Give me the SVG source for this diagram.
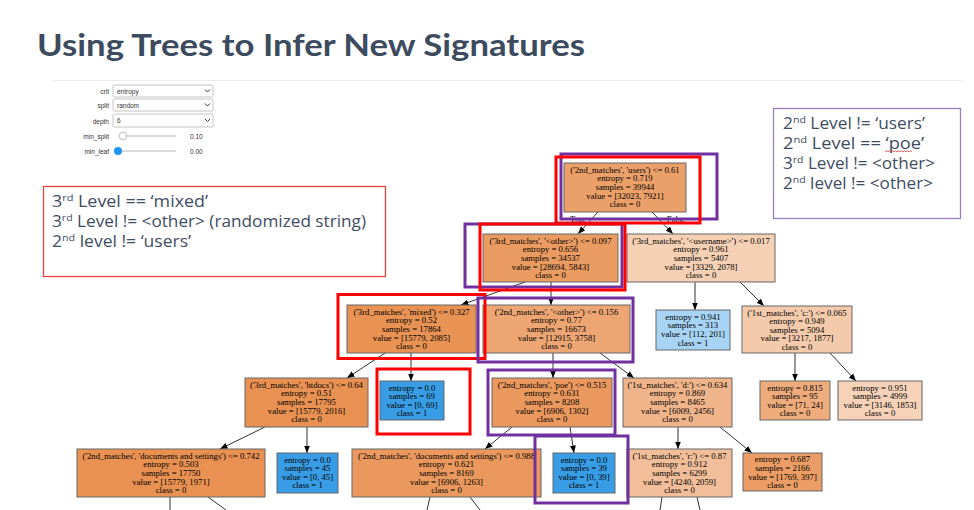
<svg xmlns="http://www.w3.org/2000/svg" width="974" height="510" viewBox="0 0 974 510">
<style>
.nt{font-family:"Liberation Serif","Times New Roman",serif;font-size:8.7px;fill:#000;text-anchor:middle}
.nb{stroke:#666;stroke-width:1}
.e{stroke:#1a1a1a;stroke-width:0.9;fill:none}
.ea{marker-end:url(#ah)}
.hr{fill:none;stroke:#ff0000;stroke-width:3}
.hp{fill:none;stroke:#7030a0;stroke-width:3}
.wl{font-family:"Liberation Sans",Arial,sans-serif;font-size:6.5px;fill:#333}
.sel{fill:#fff;stroke:#b5b5b5;stroke-width:0.8}
.note{font-family:"Open Sans","Noto Sans","Liberation Sans",sans-serif;font-size:15.5px;fill:#3f4d62}
.sup{font-size:9.5px}
</style>
<defs>
<marker id="ah" markerUnits="userSpaceOnUse" markerWidth="8" markerHeight="7" refX="7.5" refY="3.5" orient="auto">
<path d="M0,0.5 L7.5,3.5 L0,6.5 z" fill="#000"/>
</marker>
</defs>
<rect x="0" y="0" width="974" height="510" fill="#fff"/>
<text x="37" y="56" font-family="Lato,'Open Sans','Liberation Sans',sans-serif" font-weight="bold" font-size="31" fill="#3d4b5f" textLength="548" lengthAdjust="spacingAndGlyphs">Using Trees to Infer New Signatures</text>
<line x1="52" y1="80.5" x2="962" y2="80.5" stroke="#ececec" stroke-width="1"/>

<g id="widgets">
<text class="wl" x="109" y="93.5" text-anchor="end">crit</text>
<rect class="sel" x="113" y="85" width="100" height="12" rx="1.5"/>
<text class="wl" x="117" y="93.5">entropy</text>
<polyline points="205,89.5 207.5,92 210,89.5" fill="none" stroke="#333" stroke-width="1"/>
<text class="wl" x="109" y="107.5" text-anchor="end">split</text>
<rect class="sel" x="113" y="99" width="100" height="12" rx="1.5"/>
<text class="wl" x="117" y="107.5">random</text>
<polyline points="205,103.5 207.5,106 210,103.5" fill="none" stroke="#333" stroke-width="1"/>
<text class="wl" x="109" y="123.5" text-anchor="end">depth</text>
<rect class="sel" x="113" y="114" width="100" height="13" rx="1.5"/>
<text class="wl" x="117" y="123">6</text>
<polyline points="205,119 207.5,121.5 210,119" fill="none" stroke="#333" stroke-width="1"/>
<text class="wl" x="109" y="138.5" text-anchor="end">min_split</text>
<line x1="119" y1="136" x2="176" y2="136" stroke="#d0d0d0" stroke-width="1.5"/>
<circle cx="123" cy="136" r="3.8" fill="#fff" stroke="#aaa" stroke-width="0.8"/>
<text class="wl" x="190" y="138.5">0.10</text>
<text class="wl" x="109" y="153.5" text-anchor="end">min_leaf</text>
<line x1="118" y1="151" x2="176" y2="151" stroke="#d0d0d0" stroke-width="1.5"/>
<circle cx="118" cy="151" r="4" fill="#2196f3"/>
<text class="wl" x="190" y="153.5">0.00</text>
</g>

<g id="connectors">
<line class="e ea" x1="598" y1="212" x2="578" y2="234"/>
<line class="e ea" x1="652" y1="212" x2="673" y2="234"/>
<line class="e ea" x1="525" y1="282" x2="461" y2="305"/>
<line class="e ea" x1="551" y1="282" x2="551" y2="305"/>
<line class="e ea" x1="695" y1="282" x2="695" y2="310"/>
<line class="e ea" x1="740" y1="282" x2="764" y2="306"/>
<line class="e ea" x1="385" y1="353" x2="347" y2="378"/>
<line class="e ea" x1="411" y1="353" x2="411" y2="381"/>
<line class="e ea" x1="553" y1="353" x2="553" y2="378"/>
<line class="e ea" x1="600" y1="353" x2="634" y2="378"/>
<line class="e ea" x1="795" y1="353" x2="795" y2="381"/>
<line class="e ea" x1="830" y1="353" x2="856" y2="381"/>
<line class="e ea" x1="265" y1="427" x2="220" y2="449"/>
<line class="e ea" x1="307" y1="427" x2="307" y2="453"/>
<line class="e ea" x1="512" y1="427" x2="485" y2="449"/>
<line class="e ea" x1="570" y1="427" x2="574" y2="453"/>
<line class="e ea" x1="678" y1="427" x2="678" y2="449"/>
<line class="e ea" x1="720" y1="427" x2="752" y2="453"/>
<line class="e" x1="170" y1="497" x2="170" y2="510"/>
<line class="e" x1="208" y1="497" x2="226" y2="510"/>
<line class="e" x1="430" y1="497" x2="427" y2="510"/>
<line class="e" x1="470" y1="497" x2="480" y2="510"/>
<line class="e" x1="662" y1="497" x2="660" y2="510"/>
<line class="e" x1="697" y1="497" x2="700" y2="510"/>
<text class="nt" x="578" y="222">True</text>
<text class="nt" x="676" y="222">False</text>
</g>

<g id="n0"><rect class="nb" x="564" y="163" width="122" height="49" fill="#eba06a"/>
<text class="nt" y="172.8"><tspan x="625">('2nd_matches', 'users') &lt;= 0.61</tspan><tspan x="625" dy="8.6">entropy = 0.719</tspan><tspan x="625" dy="8.6">samples = 39944</tspan><tspan x="625" dy="8.6">value = [32023, 7921]</tspan><tspan x="625" dy="8.6">class = 0</tspan></text></g>

<g id="n1"><rect class="nb" x="483" y="234" width="135" height="48" fill="#ea9b61"/>
<text class="nt" y="243.8"><tspan x="550.5">('3rd_matches', '&lt;other&gt;') &lt;= 0.097</tspan><tspan x="550.5" dy="8.6">entropy = 0.656</tspan><tspan x="550.5" dy="8.6">samples = 34537</tspan><tspan x="550.5" dy="8.6">value = [28694, 5843]</tspan><tspan x="550.5" dy="8.6">class = 0</tspan></text></g>

<g id="n2"><rect class="nb" x="627" y="234" width="148" height="48" fill="#f5d0b4"/>
<text class="nt" y="243.8"><tspan x="701">('3rd_matches', '&lt;username&gt;') &lt;= 0.017</tspan><tspan x="701" dy="8.6">entropy = 0.961</tspan><tspan x="701" dy="8.6">samples = 5407</tspan><tspan x="701" dy="8.6">value = [3329, 2078]</tspan><tspan x="701" dy="8.6">class = 0</tspan></text></g>

<g id="n3"><rect class="nb" x="347" y="305" width="129" height="48" fill="#e89253"/>
<text class="nt" y="314.8"><tspan x="411.5">('3rd_matches', 'mixed') &lt;= 0.327</tspan><tspan x="411.5" dy="8.6">entropy = 0.52</tspan><tspan x="411.5" dy="8.6">samples = 17864</tspan><tspan x="411.5" dy="8.6">value = [15779, 2085]</tspan><tspan x="411.5" dy="8.6">class = 0</tspan></text></g>

<g id="n4"><rect class="nb" x="483" y="305" width="147" height="48" fill="#eda673"/>
<text class="nt" y="314.8"><tspan x="556.5">('2nd_matches', '&lt;other&gt;') &lt;= 0.156</tspan><tspan x="556.5" dy="8.6">entropy = 0.77</tspan><tspan x="556.5" dy="8.6">samples = 16673</tspan><tspan x="556.5" dy="8.6">value = [12915, 3758]</tspan><tspan x="556.5" dy="8.6">class = 0</tspan></text></g>

<g id="n5"><rect class="nb" x="656" y="310" width="74" height="40" fill="#a7d4f4"/>
<text class="nt" y="319.8"><tspan x="693">entropy = 0.941</tspan><tspan x="693" dy="8.6">samples = 313</tspan><tspan x="693" dy="8.6">value = [112, 201]</tspan><tspan x="693" dy="8.6">class = 1</tspan></text></g>

<g id="n6"><rect class="nb" x="742" y="306" width="110" height="47" fill="#f4caac"/>
<text class="nt" y="315.5"><tspan x="797">('1st_matches', 'c:') &lt;= 0.065</tspan><tspan x="797" dy="8.6">entropy = 0.949</tspan><tspan x="797" dy="8.6">samples = 5094</tspan><tspan x="797" dy="8.6">value = [3217, 1877]</tspan><tspan x="797" dy="8.6">class = 0</tspan></text></g>

<g id="n7"><rect class="nb" x="245" y="378" width="123" height="49" fill="#e89152"/>
<text class="nt" y="387.8"><tspan x="306.5">('3rd_matches', 'htdocs') &lt;= 0.64</tspan><tspan x="306.5" dy="8.6">entropy = 0.51</tspan><tspan x="306.5" dy="8.6">samples = 17795</tspan><tspan x="306.5" dy="8.6">value = [15779, 2016]</tspan><tspan x="306.5" dy="8.6">class = 0</tspan></text></g>

<g id="n8"><rect class="nb" x="380" y="381" width="64" height="39" fill="#399de5"/>
<text class="nt" y="390.6"><tspan x="412">entropy = 0.0</tspan><tspan x="412" dy="8.6">samples = 69</tspan><tspan x="412" dy="8.6">value = [0, 69]</tspan><tspan x="412" dy="8.6">class = 1</tspan></text></g>

<g id="n9"><rect class="nb" x="492" y="378" width="120" height="49" fill="#ea985e"/>
<text class="nt" y="387.8"><tspan x="552">('2nd_matches', 'poe') &lt;= 0.515</tspan><tspan x="552" dy="8.6">entropy = 0.631</tspan><tspan x="552" dy="8.6">samples = 8208</tspan><tspan x="552" dy="8.6">value = [6906, 1302]</tspan><tspan x="552" dy="8.6">class = 0</tspan></text></g>

<g id="n10"><rect class="nb" x="623" y="378" width="109" height="49" fill="#f0b48a"/>
<text class="nt" y="387.8"><tspan x="677.5">('1st_matches', 'd:') &lt;= 0.634</tspan><tspan x="677.5" dy="8.6">entropy = 0.869</tspan><tspan x="677.5" dy="8.6">samples = 8465</tspan><tspan x="677.5" dy="8.6">value = [6009, 2456]</tspan><tspan x="677.5" dy="8.6">class = 0</tspan></text></g>

<g id="n11"><rect class="nb" x="760" y="381" width="70" height="39" fill="#eeac7c"/>
<text class="nt" y="390.6"><tspan x="795">entropy = 0.815</tspan><tspan x="795" dy="8.6">samples = 95</tspan><tspan x="795" dy="8.6">value = [71, 24]</tspan><tspan x="795" dy="8.6">class = 0</tspan></text></g>

<g id="n12"><rect class="nb" x="838" y="381" width="84" height="39" fill="#f6d2b9"/>
<text class="nt" y="390.6"><tspan x="880">entropy = 0.951</tspan><tspan x="880" dy="8.6">samples = 4999</tspan><tspan x="880" dy="8.6">value = [3146, 1853]</tspan><tspan x="880" dy="8.6">class = 0</tspan></text></g>

<g id="n13"><rect class="nb" x="77" y="449" width="188" height="48" fill="#e89152"/>
<text class="nt" y="458.8"><tspan x="171">('2nd_matches', 'documents and settings') &lt;= 0.742</tspan><tspan x="171" dy="8.6">entropy = 0.503</tspan><tspan x="171" dy="8.6">samples = 17750</tspan><tspan x="171" dy="8.6">value = [15779, 1971]</tspan><tspan x="171" dy="8.6">class = 0</tspan></text></g>

<g id="n14"><rect class="nb" x="277" y="453" width="61" height="40" fill="#399de5"/>
<text class="nt" y="462.6"><tspan x="307.5">entropy = 0.0</tspan><tspan x="307.5" dy="8.6">samples = 45</tspan><tspan x="307.5" dy="8.6">value = [0, 45]</tspan><tspan x="307.5" dy="8.6">class = 1</tspan></text></g>

<g id="n15"><rect class="nb" x="352" y="449" width="189" height="48" fill="#ea985d"/>
<text class="nt" y="458.8"><tspan x="446.5">('2nd_matches', 'documents and settings') &lt;= 0.988</tspan><tspan x="446.5" dy="8.6">entropy = 0.621</tspan><tspan x="446.5" dy="8.6">samples = 8169</tspan><tspan x="446.5" dy="8.6">value = [6906, 1263]</tspan><tspan x="446.5" dy="8.6">class = 0</tspan></text></g>

<g id="n16"><rect class="nb" x="553" y="453" width="62" height="40" fill="#399de5"/>
<text class="nt" y="462.6"><tspan x="584">entropy = 0.0</tspan><tspan x="584" dy="8.6">samples = 39</tspan><tspan x="584" dy="8.6">value = [0, 39]</tspan><tspan x="584" dy="8.6">class = 1</tspan></text></g>

<g id="n17"><rect class="nb" x="627" y="449" width="105" height="48" fill="#f2be99"/>
<text class="nt" y="458.8"><tspan x="679.5">('1st_matches', 'r:') &lt;= 0.87</tspan><tspan x="679.5" dy="8.6">entropy = 0.912</tspan><tspan x="679.5" dy="8.6">samples = 6299</tspan><tspan x="679.5" dy="8.6">value = [4240, 2059]</tspan><tspan x="679.5" dy="8.6">class = 0</tspan></text></g>

<g id="n18"><rect class="nb" x="743" y="453" width="79" height="38" fill="#eb9d65"/>
<text class="nt" y="462.4"><tspan x="782.5">entropy = 0.687</tspan><tspan x="782.5" dy="8.6">samples = 2166</tspan><tspan x="782.5" dy="8.6">value = [1769, 397]</tspan><tspan x="782.5" dy="8.6">class = 0</tspan></text></g>

<g id="highlights">
<rect class="hp" x="561" y="154" width="156" height="65"/>
<rect class="hr" x="556" y="157" width="144" height="66"/>
<rect class="hp" x="465" y="224" width="157" height="63"/>
<rect class="hr" x="480" y="224" width="145" height="66"/>
<rect class="hr" x="338" y="294.5" width="147" height="64"/>
<rect class="hp" x="478" y="298" width="155" height="64"/>
<rect class="hr" x="377" y="369" width="93" height="65"/>
<rect class="hp" x="488" y="370" width="127" height="65"/>
<rect class="hp" x="535" y="436" width="93" height="67"/>
</g>

<g id="note-left">
<rect x="43.5" y="186.5" width="342" height="90" fill="none" stroke="#e8453e" stroke-width="1.3"/>
<text class="note" x="52" y="207" textLength="156" lengthAdjust="spacingAndGlyphs">3<tspan class="sup" dy="-6">rd</tspan><tspan dy="6"> Level == ‘mixed’</tspan></text>
<text class="note" x="52" y="227" textLength="314" lengthAdjust="spacingAndGlyphs">3<tspan class="sup" dy="-6">rd</tspan><tspan dy="6"> Level != &lt;other&gt; (randomized string)</tspan></text>
<text class="note" x="52" y="247" textLength="139" lengthAdjust="spacingAndGlyphs">2<tspan class="sup" dy="-6">nd</tspan><tspan dy="6"> level != ‘users’</tspan></text>
</g>

<g id="note-right">
<rect x="773.5" y="108.5" width="187" height="110" fill="none" stroke="#9b7fc0" stroke-width="1.3"/>
<text class="note" x="783" y="129" textLength="142" lengthAdjust="spacingAndGlyphs">2<tspan class="sup" dy="-6">nd</tspan><tspan dy="6"> Level != ‘users’</tspan></text>
<text class="note" x="783" y="149" textLength="141" lengthAdjust="spacingAndGlyphs">2<tspan class="sup" dy="-6">nd</tspan><tspan dy="6"> Level == ‘poe’</tspan></text>
<text class="note" x="783" y="169" textLength="152" lengthAdjust="spacingAndGlyphs">3<tspan class="sup" dy="-6">rd</tspan><tspan dy="6"> Level != &lt;other&gt;</tspan></text>
<text class="note" x="783" y="189" textLength="150" lengthAdjust="spacingAndGlyphs">2<tspan class="sup" dy="-6">nd</tspan><tspan dy="6"> level != &lt;other&gt;</tspan></text>
<path d="M885,152 l1.5,-1.3 l1.5,1.3 l1.5,-1.3 l1.5,1.3 l1.5,-1.3 l1.5,1.3 l1.5,-1.3 l1.5,1.3 l1.5,-1.3 l1.5,1.3 l1.5,-1.3 l1.5,1.3 l1.5,-1.3 l1.5,1.3 l1.5,-1.3 l1.5,1.3 l1.5,-1.3 l1.5,1.3" fill="none" stroke="#e02020" stroke-width="0.7"/>
</g>
</svg>
